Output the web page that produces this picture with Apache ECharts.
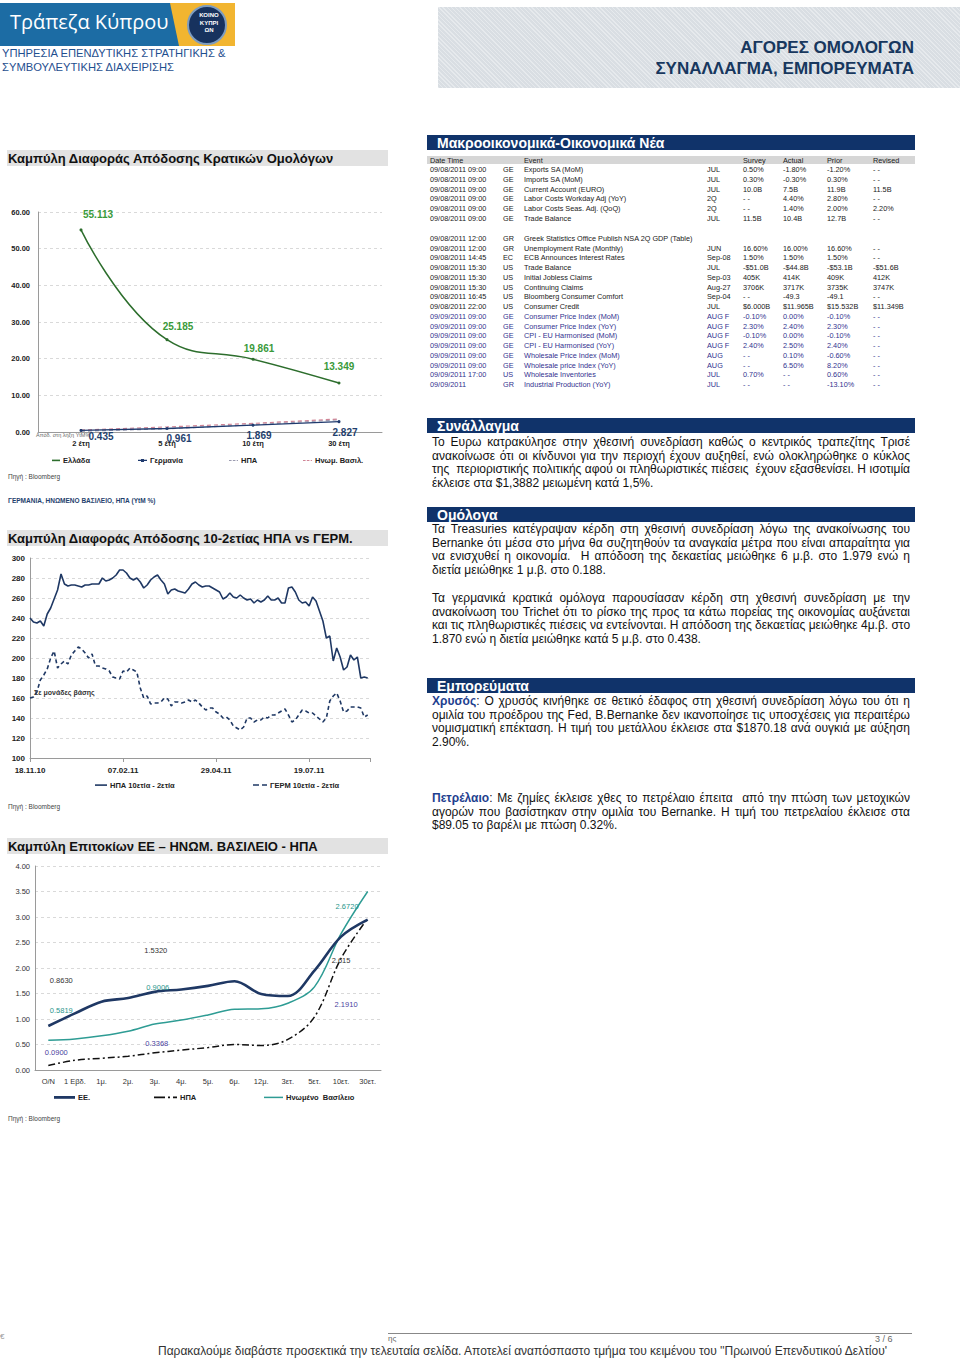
<!DOCTYPE html>
<html><head><meta charset="utf-8">
<script src="https://cdn.jsdelivr.net/npm/echarts@6/dist/echarts.min.js"></script>
<style>
body{margin:0;width:960px;height:1359px;position:relative;background:#fff;font-family:'Liberation Sans',Arial,sans-serif;overflow:hidden}
.abs{position:absolute;white-space:nowrap}
.ttl{position:absolute;left:7px;width:381px;height:16px;background:#e2e2e2;font-weight:bold;font-size:13px;line-height:17px;color:#111;padding-left:1px;box-sizing:border-box}
.sec{position:absolute;left:427px;width:488px;height:15px;background:#10336a;color:#fff;font-weight:bold;font-size:14px;line-height:16px;padding-left:10px;box-sizing:border-box}
.ln{position:absolute;left:432px;width:478px;height:14px;line-height:14px;font-size:12px;color:#111;text-align:justify;text-align-last:justify;white-space:nowrap;overflow:visible}
.ln.last{text-align:left;text-align-last:left}
.ln b{color:#1f3f8f}
.src{position:absolute;left:8px;font-size:6.5px;color:#444}
.cell{position:absolute;font-size:7.3px;line-height:9px;white-space:nowrap}
</style></head><body>

<!-- Header -->
<div class="abs" style="left:0;top:3px;width:235px;height:43px;background:#f2b530"></div>
<div class="abs" style="left:0;top:3px;width:180px;height:43px;background:#1c6ca4;clip-path:polygon(0 0,170px 0,179px 100%,0 100%)"></div>
<div class="abs" style="left:10px;top:9px;color:#fff;font-family:'Open Sans',sans-serif;font-size:20px;line-height:26px">Τράπεζα Κύπρου</div>
<div class="abs" style="left:187px;top:5px;width:36px;height:36px;border-radius:50%;background:#17325e;border:2px solid #7d9cc0"></div>
<div class="abs" style="left:189px;top:12px;width:40px;text-align:center;color:#fff;font-size:6px;font-weight:bold;line-height:7.5px">ΚΟΙΝΟ<br>ΚΥΠΡΙ<br>ΩΝ</div>
<div class="abs" style="left:2px;top:46px;color:#1f4f8f;font-size:11.2px;line-height:14px">ΥΠΗΡΕΣΙΑ ΕΠΕΝΔΥΤΙΚΗΣ ΣΤΡΑΤΗΓΙΚΗΣ &amp;<br>ΣΥΜΒΟΥΛΕΥΤΙΚΗΣ ΔΙΑΧΕΙΡΙΣΗΣ</div>

<div class="abs" style="left:438px;top:7px;width:522px;height:81px;background-color:#d9dee3;background-image:repeating-linear-gradient(45deg,rgba(255,255,255,.35) 0 1px,transparent 1px 3px)"></div>
<div class="abs" style="right:46px;top:37px;text-align:right;color:#17375e;font-weight:bold;font-size:17px;line-height:21px">ΑΓΟΡΕΣ ΟΜΟΛΟΓΩΝ<br>ΣΥΝΑΛΛΑΓΜΑ, ΕΜΠΟΡΕΥΜΑΤΑ</div>

<!-- Chart titles -->
<div class="ttl" style="top:150px">Καμπύλη Διαφοράς Απόδοσης Κρατικών Ομολόγων</div>
<div class="ttl" style="top:530px">Καμπύλη Διαφοράς Απόδοσης 10-2ετίας ΗΠΑ vs ΓΕΡΜ.</div>
<div class="ttl" style="top:838px">Καμπύλη Επιτοκίων ΕΕ – ΗΝΩΜ. ΒΑΣΙΛΕΙΟ - ΗΠΑ</div>

<div class="abs" style="left:36px;top:432px;font-size:5.5px;color:#666">Απόδ. στη λήξη YtM%</div>

<div id="c1" class="abs" style="left:0;top:170px;width:400px;height:330px"></div>
<div id="c2" class="abs" style="left:0;top:548px;width:400px;height:250px"></div>
<div id="c3" class="abs" style="left:0;top:856px;width:400px;height:250px"></div>

<div class="src" style="top:473px">Πηγή : Bloomberg</div>
<div class="abs" style="left:8px;top:497px;font-size:6.5px;font-weight:bold;color:#1f3f6e">ΓΕΡΜΑΝΙΑ, ΗΝΩΜΕΝΟ ΒΑΣΙΛΕΙΟ, ΗΠΑ (YtM %)</div>
<div class="src" style="top:803px">Πηγή : Bloomberg</div>
<div class="src" style="top:1115px">Πηγή : Bloomberg</div>

<!-- Table -->
<div class="sec" style="top:135px;height:15px">Μακροοικονομικά-Οικονομικά Νέα</div>
<div class="abs" style="left:427px;top:156px;width:488px;height:8px;background:#d6d6d6"></div>
<div id="tbl"></div>

<!-- Text sections -->
<div class="sec" style="top:418px">Συνάλλαγμα</div>
<div class="ln" style="top:435px">Το Ευρω κατρακύλησε στην χθεσινή συνεδρίαση καθώς ο κεντρικός τραπεζίτης Τρισέ</div>
<div class="ln" style="top:449px">ανακοίνωσε ότι οι κίνδυνοι για την περιοχή έχουν αυξηθεί, ενώ ολοκληρώθηκε ο κύκλος</div>
<div class="ln" style="top:462px">της &nbsp;περιοριστικής πολιτικής αφού οι πληθωριστικές πιέσεις &nbsp;έχουν εξασθενίσει. Η ισοτιμία</div>
<div class="ln last" style="top:476px">έκλεισε στα $1,3882 μειωμένη κατά 1,5%.</div>

<div class="sec" style="top:507px">Ομόλογα</div>
<div class="ln" style="top:522px">Τα Treasuries κατέγραψαν κέρδη στη χθεσινή συνεδρίαση λόγω της ανακοίνωσης του</div>
<div class="ln" style="top:536px">Bernanke ότι μέσα στο μήνα θα συζητηθούν τα αναγκαία μέτρα που είναι απαραίτητα για</div>
<div class="ln" style="top:549px">να ενισχυθεί η οικονομία. &nbsp;Η απόδοση της δεκαετίας μειώθηκε 6 μ.β. στο 1.979 ενώ η</div>
<div class="ln last" style="top:563px">διετία μειώθηκε 1 μ.β. στο 0.188.</div>
<div class="ln" style="top:591px">Τα γερμανικά κρατικά ομόλογα παρουσίασαν κέρδη στη χθεσινή συνεδρίαση με την</div>
<div class="ln" style="top:605px">ανακοίνωση του Trichet ότι το ρίσκο της προς τα κάτω πορείας της οικονομίας αυξάνεται</div>
<div class="ln" style="top:618px">και τις πληθωριστικές πιέσεις να εντείνονται. Η απόδοση της δεκαετίας μειώθηκε 4μ.β. στο</div>
<div class="ln last" style="top:632px">1.870 ενώ η διετία μειώθηκε κατά 5 μ.β. στο 0.438.</div>

<div class="sec" style="top:678px">Εμπορεύματα</div>
<div class="ln" style="top:694px"><b>Χρυσός</b>: Ο χρυσός κινήθηκε σε θετικό έδαφος στη χθεσινή συνεδρίαση λόγω του ότι η</div>
<div class="ln" style="top:708px">ομιλία του προέδρου της Fed, B.Bernanke δεν ικανοποίησε τις υποσχέσεις για περαιτέρω</div>
<div class="ln" style="top:721px">νομισματική επέκταση. Η τιμή του μετάλλου έκλεισε στα $1870.18 ανά ουγκιά με αύξηση</div>
<div class="ln last" style="top:735px">2.90%.</div>
<div class="ln" style="top:791px"><b>Πετρέλαιο</b>: Με ζημίες έκλεισε χθες το πετρέλαιο έπειτα &nbsp;από την πτώση των μετοχικών</div>
<div class="ln" style="top:805px">αγορών που βασίστηκαν στην ομιλία του Bernanke. Η τιμή του πετρελαίου έκλεισε στα</div>
<div class="ln last" style="top:818px">$89.05 το βαρέλι με πτώση 0.32%.</div>

<!-- Footer -->
<div class="abs" style="left:0;top:1332px;font-size:8px;color:#999">€</div>
<div class="abs" style="left:388px;top:1333px;width:524px;height:1px;background:#888"></div>
<div class="abs" style="left:388px;top:1334px;font-size:8px;color:#666">ης</div>
<div class="abs" style="left:875px;top:1334px;font-size:9px;color:#666">3 / 6</div>
<div class="abs" style="left:158px;top:1344px;width:726px;text-align:center;font-family:'Liberation Sans Narrow','Liberation Sans',sans-serif;font-size:12px;color:#333">Παρακαλούμε διαβάστε προσεκτικά την τελευταία σελίδα. Αποτελεί αναπόσπαστο τμήμα του κειμένου του ''Πρωινού Επενδυτικού Δελτίου'</div>

<script>
// ---------- Data ----------
const bondTenors = ['2 έτη', '5 έτη', '10 έτη', '30 έτη'];
const greeceYield = [55.113, 25.185, 19.861, 13.349];
const germanyYield = [0.435, 0.961, 1.869, 2.827];
const usaYield = [0.19, 0.88, 1.98, 3.33];
const ukYield = [0.55, 1.38, 2.35, 3.55];

const spreadTickLabels = ['18.11.10', '07.02.11', '29.04.11', '19.07.11'];
const spreadStepDays = 3;
const usSpread = [240,236,235,237,232,244,250,259,268,284,274,272,273,273,272,271,273,273,274,274,274,280,277,278,280,283,288,288,285,280,278,280,276,270,273,278,281,283,278,274,264,268,269,267,266,265,269,274,276,273,271,272,272,270,268,266,259,261,265,261,260,263,260,258,259,255,258,256,258,262,258,258,260,255,255,270,271,266,258,255,256,252,261,257,247,237,220,222,197,210,201,188,191,203,198,201,180,181,180];
const deSpread = [160,161,166,178,183,189,200,207,190,194,197,194,203,207,211,209,205,200,204,192,192,190,189,187,181,180,179,187,186,190,188,186,170,160,162,154,155,155,156,160,159,152,156,156,155,156,158,156,158,155,151,148,150,150,146,144,140,141,138,132,130,128,131,140,140,136,138,138,141,140,143,143,145,147,149,143,136,138,143,148,147,145,145,142,139,136,140,157,162,165,157,146,147,151,151,151,150,141,143];

const curveTenors = ['O/N', '1 Εβδ.', '1μ.', '2μ.', '3μ.', '4μ.', '5μ.', '6μ.', '12μ.', '3ετ.', '5ετ.', '10ετ.', '30ετ.'];
const euCurve = [0.863, 1.11, 1.34, 1.41, 1.532, 1.58, 1.65, 1.74, 1.49, 1.45, 1.95, 2.615, 2.95];
const usCurve = [0.09, 0.19, 0.23, 0.27, 0.3368, 0.39, 0.44, 0.50, 0.48, 0.60, 1.04, 2.191, 2.97];
const ukCurve = [0.5819, 0.61, 0.67, 0.76, 0.9006, 0.98, 1.08, 1.19, 1.20, 1.31, 1.63, 2.672, 3.50];
const curveLabelIdx = [0, 4, 11];

const tableHeader = ['Date Time', 'Event', 'Survey', 'Actual', 'Prior', 'Revised'];
const newsBlock1 = [
 ['09/08/2011 09:00','GE','Exports SA (MoM)','JUL','0.50%','-1.80%','-1.20%','- -'],
 ['09/08/2011 09:00','GE','Imports SA (MoM)','JUL','0.30%','-0.30%','0.30%','- -'],
 ['09/08/2011 09:00','GE','Current Account (EURO)','JUL','10.0B','7.5B','11.9B','11.5B'],
 ['09/08/2011 09:00','GE','Labor Costs Workday Adj (YoY)','2Q','- -','4.40%','2.80%','- -'],
 ['09/08/2011 09:00','GE','Labor Costs Seas. Adj. (QoQ)','2Q','- -','1.40%','2.00%','2.20%'],
 ['09/08/2011 09:00','GE','Trade Balance','JUL','11.5B','10.4B','12.7B','- -']
];
const newsBlock2 = [
 ['09/08/2011 12:00','GR','Greek Statistics Office Publish NSA 2Q GDP (Table)','','','','',''],
 ['09/08/2011 12:00','GR','Unemployment Rate (Monthly)','JUN','16.60%','16.00%','16.60%','- -'],
 ['09/08/2011 14:45','EC','ECB Announces Interest Rates','Sep-08','1.50%','1.50%','1.50%','- -'],
 ['09/08/2011 15:30','US','Trade Balance','JUL','-$51.0B','-$44.8B','-$53.1B','-$51.6B'],
 ['09/08/2011 15:30','US','Initial Jobless Claims','Sep-03','405K','414K','409K','412K'],
 ['09/08/2011 15:30','US','Continuing Claims','Aug-27','3706K','3717K','3735K','3747K'],
 ['09/08/2011 16:45','US','Bloomberg Consumer Comfort','Sep-04','- -','-49.3','-49.1','- -'],
 ['09/08/2011 22:00','US','Consumer Credit','JUL','$6.000B','$11.965B','$15.532B','$11.349B'],
 ['09/09/2011 09:00','GE','Consumer Price Index (MoM)','AUG F','-0.10%','0.00%','-0.10%','- -'],
 ['09/09/2011 09:00','GE','Consumer Price Index (YoY)','AUG F','2.30%','2.40%','2.30%','- -'],
 ['09/09/2011 09:00','GE','CPI - EU Harmonised (MoM)','AUG F','-0.10%','0.00%','-0.10%','- -'],
 ['09/09/2011 09:00','GE','CPI - EU Harmonised (YoY)','AUG F','2.40%','2.50%','2.40%','- -'],
 ['09/09/2011 09:00','GE','Wholesale Price Index (MoM)','AUG','- -','0.10%','-0.60%','- -'],
 ['09/09/2011 09:00','GE','Wholesale price Index (YoY)','AUG','- -','6.50%','8.20%','- -'],
 ['09/09/2011 17:00','US','Wholesale Inventories','JUL','0.70%','- -','0.60%','- -'],
 ['09/09/2011','GR','Industrial Production (YoY)','JUL','- -','- -','-13.10%','- -']
];

// ---------- Table rendering ----------
(function(){
  const tbl = document.getElementById('tbl');
  const colX = [430, 503, 524, 707, 743, 783, 827, 873];
  const hdrX = [430, 524, 743, 783, 827, 873];
  function cell(txt, x, yc, color){
    const d = document.createElement('div');
    d.className = 'cell'; d.textContent = txt;
    d.style.left = x + 'px'; d.style.top = (yc - 4.5) + 'px'; d.style.color = color;
    tbl.appendChild(d);
  }
  tableHeader.forEach((t, i) => cell(t, hdrX[i], 160, '#222'));
  newsBlock1.forEach((r, i) => r.forEach((t, j) => cell(t, colX[j], 169.3 + i * 9.85, '#222')));
  newsBlock2.forEach((r, i) => r.forEach((t, j) => cell(t, colX[j], 238.3 + i * 9.75, i >= 8 ? '#33338f' : '#222')));
})();

// ---------- Common styles ----------
const FONT = "'Liberation Sans', Arial, sans-serif";
const axisLine = { show: true, lineStyle: { color: '#9a9a9a', width: 1 } };
const splitDash = { show: true, lineStyle: { color: '#d9d9d9', type: [3, 3], width: 1 } };
// legend icon shapes (drawn at their own size: width x height)
const ICON = {
  solid: (w, h) => 'path://M0,0h' + w + 'v' + h + 'h-' + w + 'z',
  dashed: 'path://M0,0h4v1.5h-4zM6,0h4v1.5h-4zM12,0h2v1.5h-2z',
  dashedLong: 'path://M0,0h6v1.5h-6zM9,0h5v1.5h-5z',
  lineDot: 'path://M0,0.8h9v1.4h-9zM3,0h3v3h-3z',
  dashDot: 'path://M0,0h11v1.8h-11zM14,0h2v1.8h-2zM19,0h4v1.8h-4z'
};
function legendAt(name, left, centerY, icon, iw, ih){
  return { data: [{ name: name, icon: icon }], left: left, top: centerY - 4.6, padding: 0,
    itemWidth: iw, itemHeight: ih, itemGap: 0, selectedMode: false,
    textStyle: { fontFamily: FONT, fontSize: 7.5, fontWeight: 'bold', color: '#222', padding: [0, 0, 0, -2] } };
}

// ---------- Chart 1 ----------
const c1 = echarts.init(document.getElementById('c1'), null, { renderer: 'svg' });
const greeceLabelOffsets = [[17, -15], [11, -13], [6, -11], [0, -16.5]];
const germanyLabelOffsets = [[20, 6], [12, 10], [6, 10.5], [6, 11]];
c1.setOption({
  animation: false,
  textStyle: { fontFamily: FONT },
  grid: { left: 38, top: 42, width: 344, height: 220 },
  legend: [
    legendAt('Ελλάδα', 52, 291, ICON.solid(8, 1.6), 8, 1.6),
    legendAt('Γερμανία', 138, 291, ICON.lineDot, 9, 3),
    legendAt('ΗΠΑ', 229, 291, ICON.dashed, 9, 1.5),
    legendAt('Ηνωμ. Βασιλ.', 303, 291, ICON.dashed, 9, 1.5)
  ],
  xAxis: { type: 'category', data: bondTenors, boundaryGap: true, axisLine: axisLine, axisTick: { show: false },
    axisLabel: { fontSize: 7.5, fontWeight: 'bold', color: '#222', margin: 7 } },
  yAxis: { type: 'value', min: 0, max: 60, interval: 10, axisLine: axisLine, axisTick: { show: false }, splitLine: splitDash,
    axisLabel: { fontSize: 7.5, fontWeight: 'bold', color: '#222', margin: 8, formatter: v => v.toFixed(2) } },
  series: [
    { name: 'ΗΠΑ', type: 'line', data: usaYield, symbol: 'none', lineStyle: { color: '#9b9bb0', width: 1.2, type: [4, 3] }, itemStyle: { color: '#9b9bb0' } },
    { name: 'Ηνωμ. Βασιλ.', type: 'line', data: ukYield, symbol: 'none', lineStyle: { color: '#d08596', width: 1.2, type: [4, 3] }, itemStyle: { color: '#d08596' } },
    { name: 'Γερμανία', type: 'line', symbol: 'circle', symbolSize: 3, lineStyle: { color: '#1f3a6e', width: 1.3 }, itemStyle: { color: '#1f3a6e' },
      data: germanyYield.map((v, i) => ({ value: v, label: { offset: germanyLabelOffsets[i] } })),
      label: { show: true, position: 'inside', fontSize: 10, fontWeight: 'bold', color: '#1f3f6e', formatter: p => p.value.toFixed(3) } },
    { name: 'Ελλάδα', type: 'line', smooth: 0.45, symbol: 'circle', symbolSize: 3, lineStyle: { color: '#2d6e2d', width: 1.5 }, itemStyle: { color: '#2d6e2d' },
      data: greeceYield.map((v, i) => ({ value: v, label: { offset: greeceLabelOffsets[i] } })),
      label: { show: true, position: 'inside', fontSize: 10, fontWeight: 'bold', color: '#3a9a3a', formatter: p => p.value.toFixed(3) } }
  ]
});

// ---------- Chart 2 ----------
const c2 = echarts.init(document.getElementById('c2'), null, { renderer: 'svg' });
const tickEvery = 81;
c2.setOption({
  animation: false,
  textStyle: { fontFamily: FONT },
  grid: { left: 30, top: 10, width: 340, height: 200 },
  legend: [
    legendAt('ΗΠΑ 10ετία - 2ετία', 95, 237.7, ICON.solid(12, 1.6), 12, 1.6),
    legendAt('ΓΕΡΜ 10ετία - 2ετία', 253, 237.7, ICON.dashedLong, 14, 1.5)
  ],
  graphic: [{ type: 'text', left: 34, top: 141, style: { text: 'Σε μονάδες βάσης', fontSize: 7, fontWeight: 'bold', fill: '#333', fontFamily: FONT } }],
  xAxis: { type: 'value', min: 0, max: 296, interval: tickEvery, axisLine: axisLine, splitLine: { show: false },
    axisTick: { show: true, length: 4, lineStyle: { color: '#9a9a9a' } },
    axisLabel: { fontSize: 8, fontWeight: 'bold', color: '#222', margin: 8,
      formatter: v => (v % tickEvery === 0 && spreadTickLabels[v / tickEvery]) ? spreadTickLabels[v / tickEvery] : '' } },
  yAxis: { type: 'value', min: 100, max: 300, interval: 20, axisLine: axisLine, axisTick: { show: false }, splitLine: splitDash,
    axisLabel: { fontSize: 8, fontWeight: 'bold', color: '#222', margin: 5 } },
  series: [
    { name: 'ΗΠΑ 10ετία - 2ετία', type: 'line', symbol: 'none', data: usSpread.map((v, i) => [i * spreadStepDays, v]),
      lineStyle: { color: '#1f3864', width: 1.6 }, itemStyle: { color: '#1f3864' } },
    { name: 'ΓΕΡΜ 10ετία - 2ετία', type: 'line', symbol: 'none', data: deSpread.map((v, i) => [i * spreadStepDays, v]),
      lineStyle: { color: '#1f3864', width: 1.6, type: [4, 3] }, itemStyle: { color: '#1f3864' } }
  ]
});

// ---------- Chart 3 ----------
const c3 = echarts.init(document.getElementById('c3'), null, { renderer: 'svg' });
const euLabelStyle = { offsets: [[13, -45], [1, -41], [0, 24]], decimals: [4, 4, 3], color: '#333' };
const ukLabelStyle = { offsets: [[13, -30], [3, -37], [6, -27]], decimals: [4, 4, 4], color: '#2a968c' };
const usLabelStyle = { offsets: [[8, -13], [2, -9.5], [5, 46]], decimals: [4, 4, 4], color: '#4a3fa0' };
function curveMarks(vals, st){
  return { symbol: 'circle', symbolSize: 0, silent: true, animation: false,
    data: curveLabelIdx.map((i, k) => ({ coord: [i, vals[i]], value: vals[i],
      label: { show: true, position: 'inside', offset: st.offsets[k], color: st.color, fontSize: 7.5, fontFamily: FONT,
        formatter: vals[i].toFixed(st.decimals[k]) } })) };
}
c3.setOption({
  animation: false,
  textStyle: { fontFamily: FONT },
  grid: { left: 35, top: 10, width: 346, height: 204 },
  legend: [
    legendAt('ΕΕ.', 54, 242, ICON.solid(21, 2.8), 21, 2.8),
    legendAt('ΗΠΑ', 154, 242, ICON.dashDot, 23, 1.8),
    legendAt('Ηνωμένο  Βασίλειο', 264, 242, ICON.solid(19, 1.5), 19, 1.5)
  ],
  xAxis: { type: 'category', data: curveTenors, boundaryGap: true, axisLine: axisLine, axisTick: { show: false },
    axisLabel: { fontSize: 7.5, color: '#333', margin: 7, interval: 0 } },
  yAxis: { type: 'value', min: 0, max: 4, interval: 0.5, axisLine: axisLine, axisTick: { show: false }, splitLine: splitDash,
    axisLabel: { fontSize: 7.5, color: '#333', margin: 5, formatter: v => v.toFixed(2) } },
  series: [
    { name: 'Ηνωμένο  Βασίλειο', type: 'line', smooth: 0.35, symbol: 'none', data: ukCurve,
      lineStyle: { color: '#2e9c94', width: 1.5 }, itemStyle: { color: '#2e9c94' }, markPoint: curveMarks(ukCurve, ukLabelStyle) },
    { name: 'ΗΠΑ', type: 'line', smooth: 0.35, symbol: 'none', data: usCurve,
      lineStyle: { color: '#111', width: 1.5, type: [7, 3, 2, 3] }, itemStyle: { color: '#111' }, markPoint: curveMarks(usCurve, usLabelStyle) },
    { name: 'ΕΕ.', type: 'line', smooth: 0.35, symbol: 'none', data: euCurve,
      lineStyle: { color: '#1f3864', width: 2.6 }, itemStyle: { color: '#1f3864' }, markPoint: curveMarks(euCurve, euLabelStyle) }
  ]
});
</script>
</body></html>
